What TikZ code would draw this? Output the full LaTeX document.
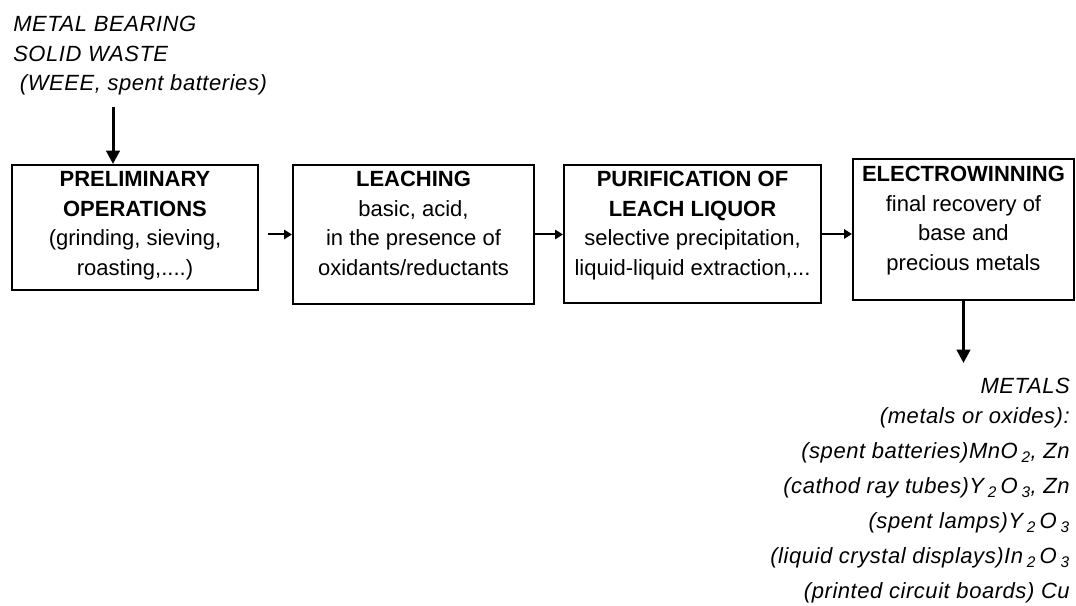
\documentclass[tikz,border=0pt]{standalone}
\usepackage{fontspec}
\setmainfont{Liberation Sans}
\newfontfamily\itspaced[LetterSpace=2.5]{Liberation Sans}
\usetikzlibrary{arrows.meta}
\tikzset{
  box/.style={draw, line width=1.5pt, rectangle, inner sep=0pt},
  btext/.style={align=center, inner sep=0pt, font=\fontsize{16.5}{22.1}\selectfont},
  itext/.style={inner sep=0pt, font=\fontsize{16.5}{22.1}\selectfont\itspaced\itshape},
  harrow/.style={line width=1.5pt, -{Triangle[length=6pt,width=7pt]}},
  varrow/.style={line width=2.25pt, -{Triangle[length=10pt,width=10pt]}}
}
\newcommand{\subsc}[1]{\,\textsubscript{#1}}
\begin{document}
\begin{tikzpicture}[x=0.75pt,y=-0.75pt]
\useasboundingbox[fill=white] (0,0) rectangle (1076,606);
% boxes
\node[box, minimum width=184.5pt, minimum height=93.75pt] (b1) at (135,227.5) {};
\node[box, minimum width=180.75pt, minimum height=104.25pt] (b2) at (413.5,234.5) {};
\node[box, minimum width=192.75pt, minimum height=103.5pt] (b3) at (692.5,234) {};
\node[box, minimum width=165.75pt, minimum height=105.75pt] (b4) at (963.5,229.5) {};
% box texts
\node[btext, below=5.4pt] (t1) at (b1.north) {\textbf{PRELIMINARY}\\\textbf{OPERATIONS}\\(grinding, sieving,\\roasting,....)};
\node[btext, below=5.4pt] (t2) at (b2.north) {\textbf{LEACHING}\\basic, acid,\\in the presence of\\oxidants/reductants};
\node[btext, below=5.4pt] (t3) at (b3.north) {\textbf{PURIFICATION OF}\\\textbf{LEACH LIQUOR}\\selective precipitation,\\liquid-liquid extraction,...};
\node[btext, below=6.1pt] (t4) at (b4.north) {\textbf{ELECTROWINNING}\\final recovery of\\base and\\precious metals};
% input text
\node[itext, align=left, anchor=north west] (src) at (13,16) {METAL BEARING\\SOLID WASTE\\~(WEEE, spent batteries)};
% output text
\node[itext, align=right, anchor=north east, font=\fontsize{16.5}{26.25}\selectfont\itspaced\itshape] (out) at (1070,378)
{METALS\\[-3.75pt]
(metals or oxides):\\
(spent batteries)MnO\subsc{2}, Zn\\
(cathod ray tubes)Y\subsc{2}\,O\subsc{3}, Zn\\
(spent lamps)Y\subsc{2}\,O\subsc{3}\\
(liquid crystal displays)In\subsc{2}\,O\subsc{3}\\
(printed circuit boards) Cu};
% connectors
\coordinate (a0) at (113,107);
\coordinate (m) at (963.5,363);
\draw[varrow] (a0) -- (a0 |- b1.north);
\draw[harrow, shorten <=6.75pt] (b1.east |- b2.west) -- (b2.west);
\draw[harrow] (b2.east) -- (b3.west |- b2.east);
\draw[harrow] (b3.east) -- (b4.west |- b3.east);
\draw[varrow] (b4.south) -- (m);
\end{tikzpicture}
\end{document}
